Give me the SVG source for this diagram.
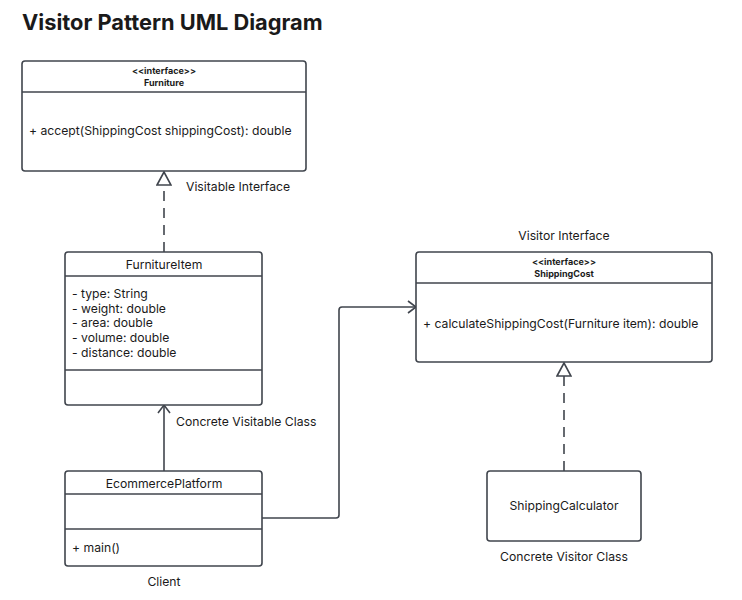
<svg xmlns="http://www.w3.org/2000/svg" width="742" height="600" viewBox="0 0 742 600">
<style>
text{font-family:Inter,"Noto Sans","Liberation Sans",sans-serif;fill:#1a1a1a}
.box{fill:#fff;stroke:#40454d;stroke-width:1.6}
.div{stroke:#40454d;stroke-width:1.6}
.t{font-size:12.2px}
.s{font-size:9px;font-weight:bold}
.c{stroke:#40454d;stroke-width:1.6;fill:none}
.d{stroke-dasharray:10 7}
</style>
<defs>
<marker id="tri" markerWidth="16" markerHeight="16" refX="14" refY="8" orient="auto" markerUnits="userSpaceOnUse">
<path d="M1,1 L14,8 L1,15 Z" fill="#fff" stroke="#40454d" stroke-width="1.6"/>
</marker>
<marker id="open" markerWidth="14" markerHeight="14" refX="9" refY="7" orient="auto" markerUnits="userSpaceOnUse">
<path d="M1,1 L9,7 L1,13" fill="none" stroke="#40454d" stroke-width="1.6"/>
</marker>
</defs>
<rect width="742" height="600" fill="#fff"/>
<text x="22" y="30" style="font-size:21.8px;font-weight:bold">Visitor Pattern UML Diagram</text>

<g id="connectors">
<path class="c d" d="M164,252 L164,172" marker-end="url(#tri)"/>
<path class="c" d="M164,471 L164,405" marker-end="url(#open)"/>
<path class="c" d="M262,518 L336,518 Q339,518 339,515 L339,310 Q339,307 342,307 L416,307" marker-end="url(#open)"/>
<path class="c d" d="M564,471 L564,363" marker-end="url(#tri)"/>
</g>

<g id="Furniture">
<rect class="box" x="22" y="61" width="284" height="110" rx="3"/>
<line class="div" x1="22" y1="92" x2="306" y2="92"/>
<text class="s" x="164" y="74" text-anchor="middle">&lt;&lt;interface&gt;&gt;</text>
<text class="s" x="164" y="86" text-anchor="middle">Furniture</text>
<text class="t" x="29" y="135">+ accept(ShippingCost shippingCost): double</text>
</g>
<text class="t" x="186" y="191">Visitable Interface</text>

<g id="FurnitureItem">
<rect class="box" x="65" y="252" width="197" height="153" rx="3"/>
<line class="div" x1="65" y1="276" x2="262" y2="276"/>
<line class="div" x1="65" y1="370" x2="262" y2="370"/>
<text class="t" x="164" y="269" text-anchor="middle">FurnitureItem</text>
<text class="t" x="72" y="298">- type: String</text>
<text class="t" x="72" y="313">- weight: double</text>
<text class="t" x="72" y="327">- area: double</text>
<text class="t" x="72" y="342">- volume: double</text>
<text class="t" x="72" y="357">- distance: double</text>
</g>
<text class="t" x="176" y="426">Concrete Visitable Class</text>

<g id="EcommercePlatform">
<rect class="box" x="65" y="471" width="197" height="95" rx="3"/>
<line class="div" x1="65" y1="494" x2="262" y2="494"/>
<line class="div" x1="65" y1="529" x2="262" y2="529"/>
<text class="t" x="164" y="488" text-anchor="middle">EcommercePlatform</text>
<text class="t" x="72" y="552">+ main()</text>
</g>
<text class="t" x="164" y="586" text-anchor="middle">Client</text>

<text class="t" x="564" y="240" text-anchor="middle">Visitor Interface</text>
<g id="ShippingCost">
<rect class="box" x="416" y="252" width="296" height="110" rx="3"/>
<line class="div" x1="416" y1="283" x2="712" y2="283"/>
<text class="s" x="564" y="265" text-anchor="middle">&lt;&lt;interface&gt;&gt;</text>
<text class="s" x="564" y="277" text-anchor="middle">ShippingCost</text>
<text class="t" x="423" y="328">+ calculateShippingCost(Furniture item): double</text>
</g>

<g id="ShippingCalculator">
<rect class="box" x="487" y="471" width="154" height="70" rx="3"/>
<text class="t" x="564" y="510" text-anchor="middle">ShippingCalculator</text>
</g>
<text class="t" x="564" y="561" text-anchor="middle">Concrete Visitor Class</text>
</svg>
